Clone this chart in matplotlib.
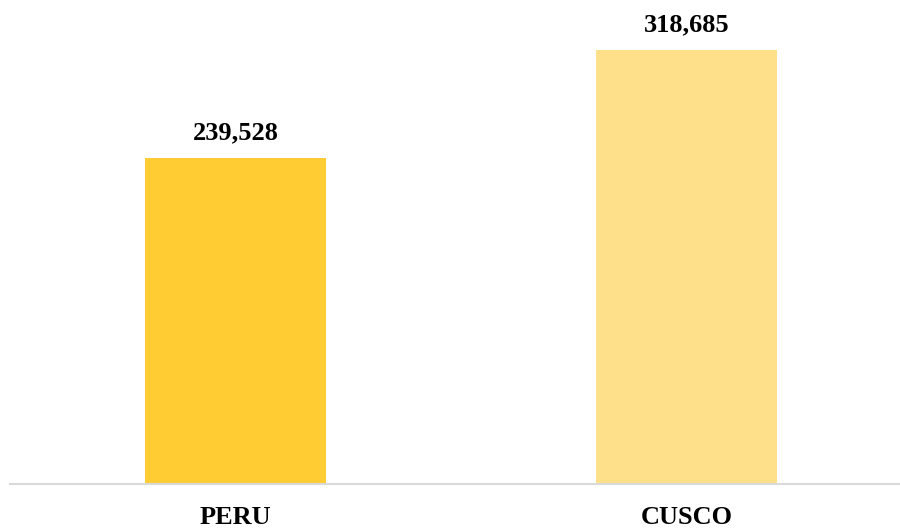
import matplotlib.pyplot as plt

# datos
categorias = ['PERU', 'CUSCO']
valores = [239528, 318685]
colores = ['#FFCD33', '#FEE08A']

plt.rcParams['font.family'] = ['Liberation Serif', 'DejaVu Serif']

fig = plt.figure(figsize=(9, 5.28), dpi=100)
ax = fig.add_axes([10 / 900, 44 / 528, 890 / 900, 484 / 528])

x = range(len(categorias))
ax.bar(x, valores, width=0.4, color=colores, zorder=2)

for xi, v in zip(x, valores):
    ax.text(xi, v + 10000, f'{v:,}', ha='center', va='bottom',
            fontsize=19, fontweight='bold')

ax.set_xlim(-0.5, 890 / 451 - 0.5)
ax.set_ylim(0, 355600)

ax.set_xticks(list(x))
ax.set_xticklabels(categorias, fontsize=19, fontweight='bold')
ax.tick_params(axis='x', length=0, pad=16)
ax.set_yticks([])

for s in ['top', 'right', 'left']:
    ax.spines[s].set_visible(False)
ax.spines['bottom'].set_color('#D9D9D9')
ax.spines['bottom'].set_linewidth(1.5)

fig.savefig('out.png', dpi=100)
